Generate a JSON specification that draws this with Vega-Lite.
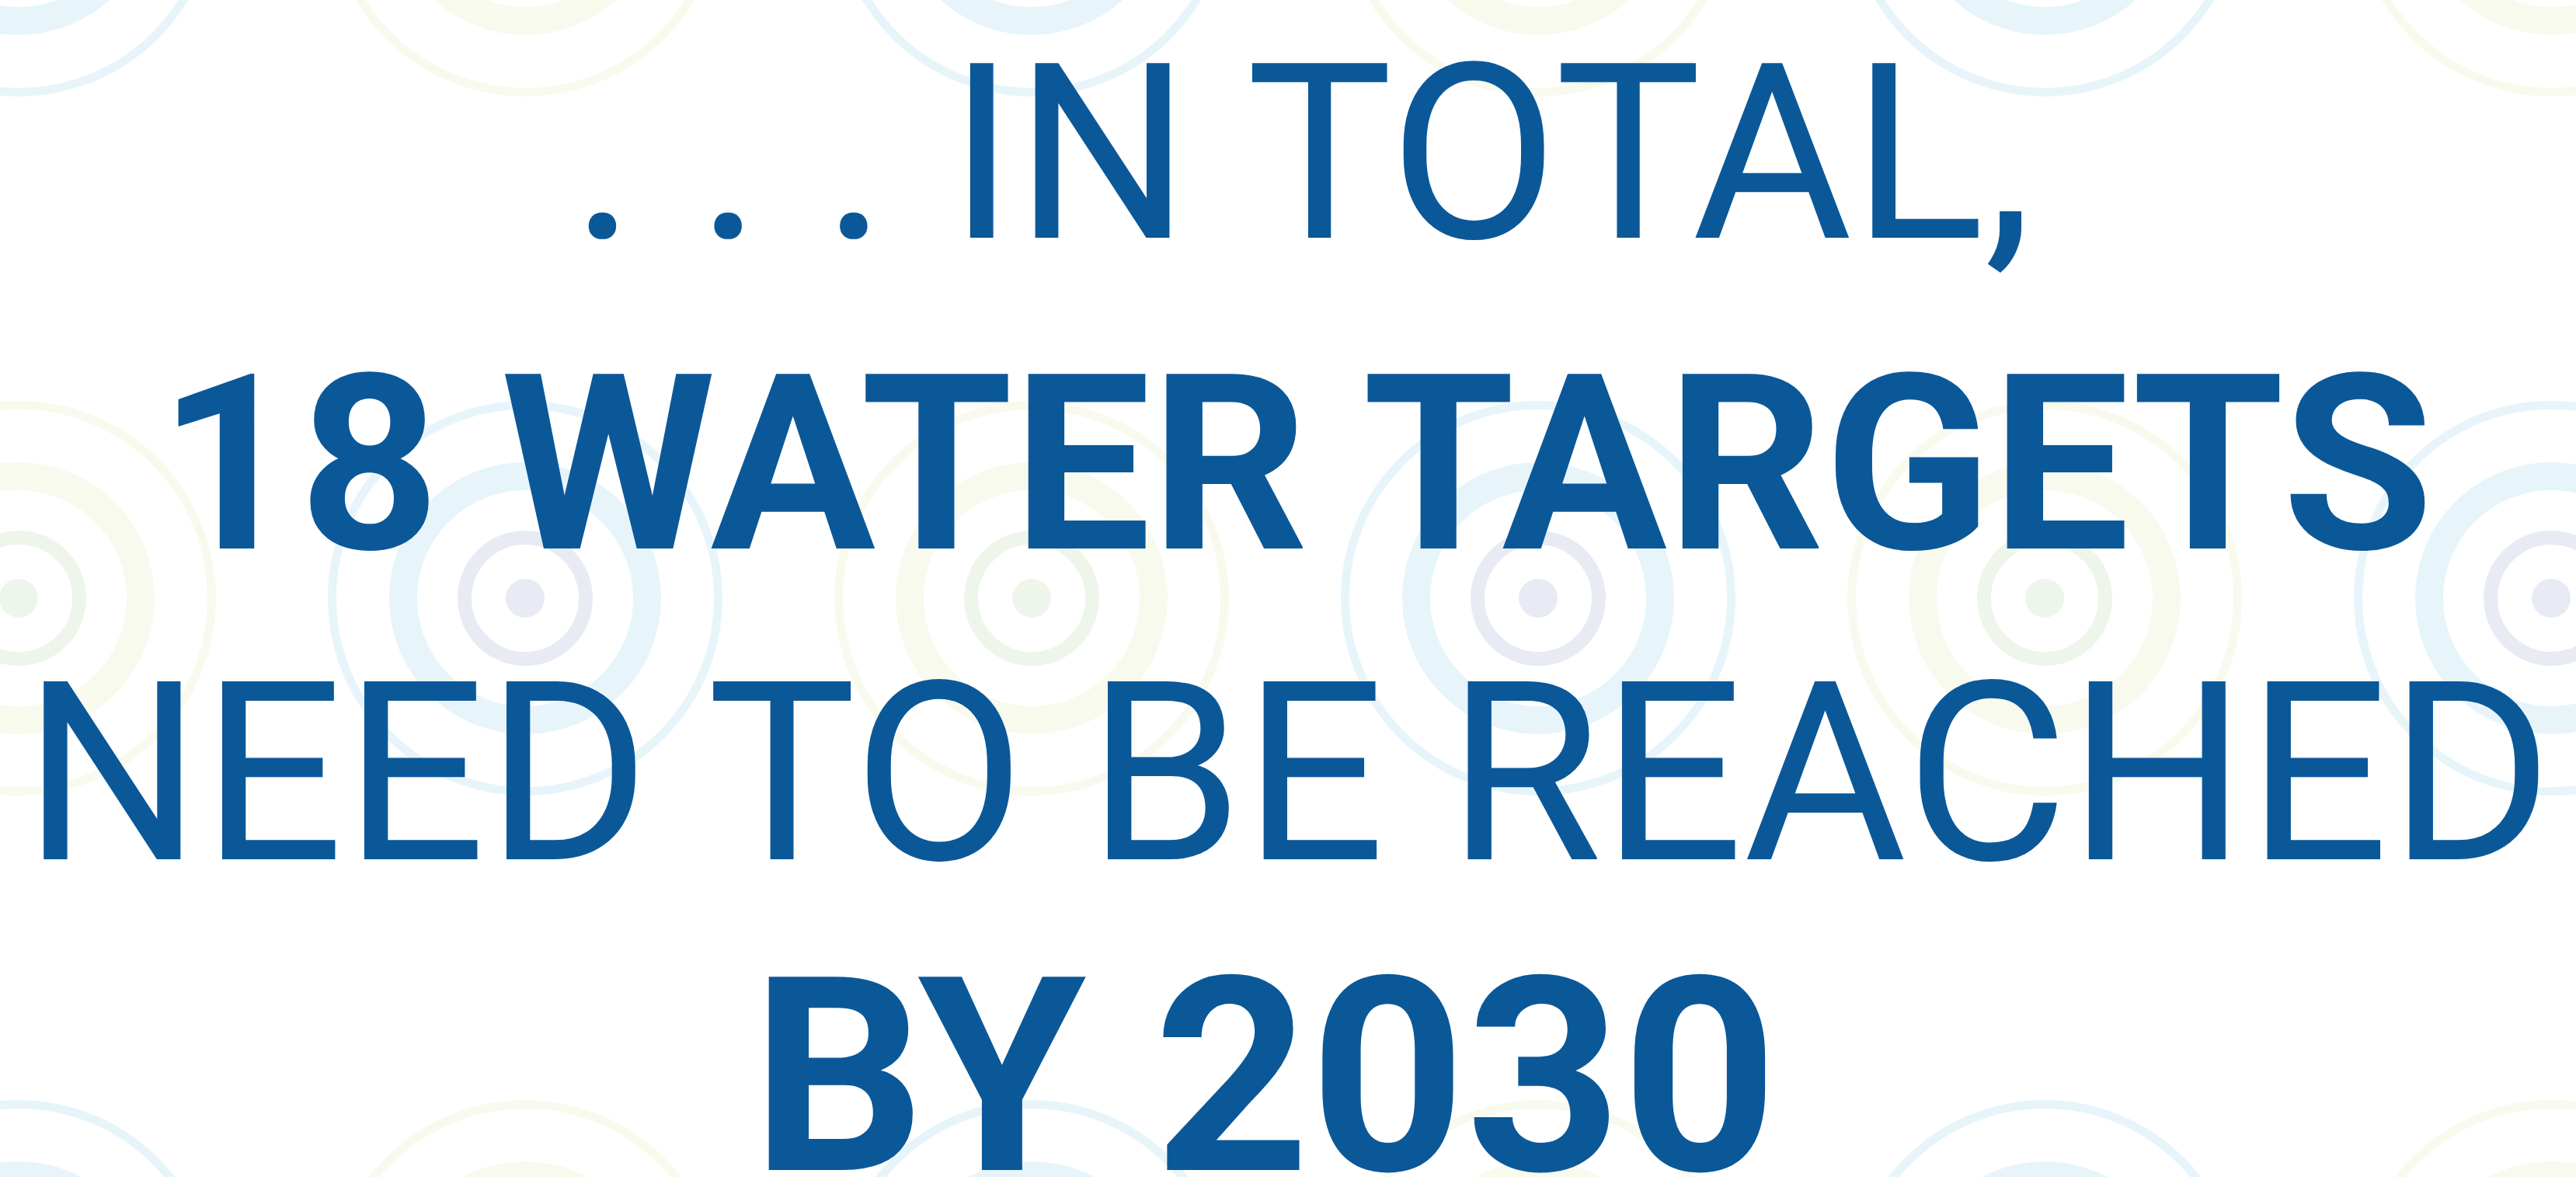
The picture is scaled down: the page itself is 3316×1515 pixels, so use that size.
{
  "$schema": "https://vega.github.io/schema/vega-lite/v6.json",
  "width": 3316,
  "height": 1515,
  "autosize": {"type": "none"},
  "padding": 0,
  "background": "#ffffff",
  "config": {"view": {"stroke": null}},
  "datasets": {
    "targets": [
      {"col": 0, "row": -1, "kind": "blue"},
      {"col": 1, "row": -1, "kind": "green"},
      {"col": 2, "row": -1, "kind": "blue"},
      {"col": 3, "row": -1, "kind": "green"},
      {"col": 4, "row": -1, "kind": "blue"},
      {"col": 5, "row": -1, "kind": "green"},
      {"col": 0, "row": 0, "kind": "green"},
      {"col": 1, "row": 0, "kind": "blue"},
      {"col": 2, "row": 0, "kind": "green"},
      {"col": 3, "row": 0, "kind": "blue"},
      {"col": 4, "row": 0, "kind": "green"},
      {"col": 5, "row": 0, "kind": "blue"},
      {"col": 0, "row": 1, "kind": "blue"},
      {"col": 1, "row": 1, "kind": "green"},
      {"col": 2, "row": 1, "kind": "blue"},
      {"col": 3, "row": 1, "kind": "green"},
      {"col": 4, "row": 1, "kind": "blue"},
      {"col": 5, "row": 1, "kind": "green"}
    ],
    "lines": [
      {"line": 1, "text": ". . . IN TOTAL,", "weight": "regular"},
      {"line": 2, "text": "18 WATER TARGETS", "weight": "bold"},
      {"line": 3, "text": "NEED TO BE REACHED", "weight": "regular"},
      {"line": 4, "text": "BY 2030", "weight": "bold"}
    ]
  },
  "layer": [
    {
      "data": {"name": "targets"},
      "layer": [
        {
          "mark": {"type": "point", "shape": "circle", "filled": true, "opacity": 1, "size": 2500},
          "encoding": {
            "x": {"field": "col", "type": "quantitative", "scale": {"domain": [-0.0368, 5.049], "nice": false, "zero": false}, "axis": null},
            "y": {"field": "row", "type": "quantitative", "scale": {"domain": [-0.8556, 0.8278], "nice": false, "zero": false, "reverse": true}, "axis": null},
            "color": {"field": "kind", "type": "nominal", "scale": {"domain": ["green", "blue"], "range": ["#eef6ec", "#e8eaf4"]}, "legend": null}
          }
        },
        {
          "mark": {"type": "point", "shape": "circle", "filled": false, "opacity": 1, "size": 24336, "strokeWidth": 18},
          "encoding": {
            "x": {"field": "col", "type": "quantitative", "scale": {"domain": [-0.0368, 5.049], "nice": false, "zero": false}, "axis": null},
            "y": {"field": "row", "type": "quantitative", "scale": {"domain": [-0.8556, 0.8278], "nice": false, "zero": false, "reverse": true}, "axis": null},
            "stroke": {"field": "kind", "type": "nominal", "scale": {"domain": ["green", "blue"], "range": ["#eef6ec", "#e8eaf4"]}, "legend": null}
          }
        },
        {
          "mark": {"type": "point", "shape": "circle", "filled": false, "opacity": 1, "size": 98596, "strokeWidth": 36},
          "encoding": {
            "x": {"field": "col", "type": "quantitative", "scale": {"domain": [-0.0368, 5.049], "nice": false, "zero": false}, "axis": null},
            "y": {"field": "row", "type": "quantitative", "scale": {"domain": [-0.8556, 0.8278], "nice": false, "zero": false, "reverse": true}, "axis": null},
            "stroke": {"field": "kind", "type": "nominal", "scale": {"domain": ["green", "blue"], "range": ["#f8faee", "#e7f5fb"]}, "legend": null}
          }
        },
        {
          "mark": {"type": "point", "shape": "circle", "filled": false, "opacity": 1, "size": 247009, "strokeWidth": 11},
          "encoding": {
            "x": {"field": "col", "type": "quantitative", "scale": {"domain": [-0.0368, 5.049], "nice": false, "zero": false}, "axis": null},
            "y": {"field": "row", "type": "quantitative", "scale": {"domain": [-0.8556, 0.8278], "nice": false, "zero": false, "reverse": true}, "axis": null},
            "stroke": {"field": "kind", "type": "nominal", "scale": {"domain": ["green", "blue"], "range": ["#f8faee", "#e7f5fb"]}, "legend": null}
          }
        }
      ],
      "resolve": {"scale": {"color": "independent", "stroke": "independent"}}
    },
    {
      "data": {"name": "lines"},
      "encoding": {
        "y": {"field": "line", "type": "quantitative", "scale": {"domain": [0.235, 4.0225], "nice": false, "zero": false, "reverse": true}, "axis": null},
        "text": {"field": "text", "type": "nominal"}
      },
      "layer": [
        {
          "transform": [{"filter": "datum.line === 1"}],
          "mark": {"type": "text", "align": "center", "baseline": "alphabetic", "font": "Roboto", "fontWeight": "normal", "fontSize": 316, "dx": 18, "color": "#0b5899"}
        },
        {
          "transform": [{"filter": "datum.line === 2"}],
          "mark": {"type": "text", "align": "center", "baseline": "alphabetic", "font": "Roboto", "fontWeight": "bold", "fontSize": 316, "dx": 10, "color": "#0b5899"}
        },
        {
          "transform": [{"filter": "datum.line === 3"}],
          "mark": {"type": "text", "align": "center", "baseline": "alphabetic", "font": "Roboto", "fontWeight": "normal", "fontSize": 322, "color": "#0b5899"}
        },
        {
          "transform": [{"filter": "datum.line === 4"}],
          "mark": {"type": "text", "align": "center", "baseline": "alphabetic", "font": "Roboto", "fontWeight": "bold", "fontSize": 350, "dx": -30, "color": "#0b5899"}
        }
      ]
    }
  ],
  "resolve": {"scale": {"x": "independent", "y": "independent", "color": "independent", "stroke": "independent"}}
}
